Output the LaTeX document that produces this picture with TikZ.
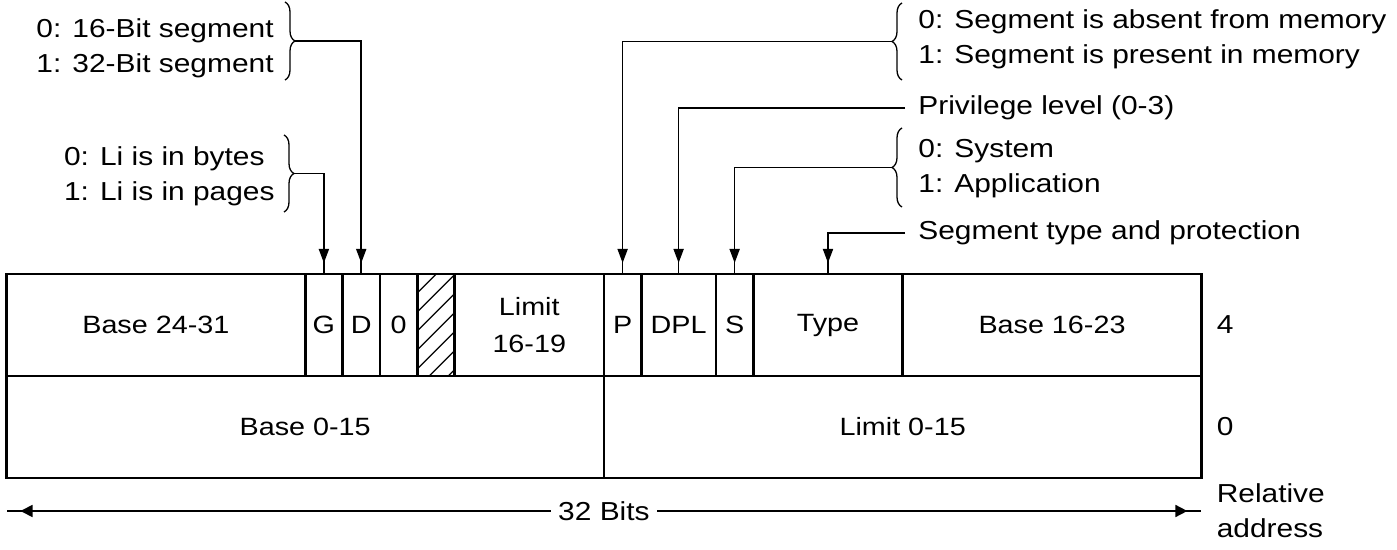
\documentclass[tikz,border=0pt]{standalone}
\usepackage{fontspec}
\setmainfont{Liberation Sans}[FakeStretch=1.15]
\usetikzlibrary{positioning,arrows.meta,decorations.pathreplacing,decorations.markings}

\newcommand{\bitw}{18.67pt}

\tikzset{
  field/.style={draw, line width=1.4pt, outer sep=0pt, inner sep=0pt,
    minimum height=51pt, anchor=north west, align=center,
    font=\fontsize{12.5}{18.5}\selectfont},
  pointer/.style={line width=0.85pt, postaction={decorate},
    decoration={markings, mark=at position -5.5pt with {\arrow{Triangle[length=7pt,width=5pt]}}}},
  span/.style={line width=0.85pt, postaction={decorate},
    decoration={markings, mark=at position -7pt with {\arrow{Triangle[length=6pt,width=6pt]}}}},
  curly/.style={decorate, line width=0.65pt, decoration={brace, amplitude=5pt}},
  lnote/.style={inner xsep=5pt, inner ysep=0pt, anchor=east, align=left},
  rnote/.style={inner xsep=6.5pt, inner ysep=0pt, anchor=west, align=left},
}

\begin{document}
\begin{tikzpicture}[x=0.5pt, y=-0.5pt, font=\fontsize{13}{17.5}\selectfont]
\useasboundingbox (0,0) rectangle (1397,550);

% word at offset 4
\node[field, minimum width=8*\bitw] (basehi) at (6.5,274) {Base 24-31};
\node[field, minimum width=\bitw, right=0pt of basehi] (g) {G};
\node[field, minimum width=\bitw, right=0pt of g] (d) {D};
\node[field, minimum width=\bitw, right=0pt of d] (z) {0};
\node[field, minimum width=\bitw, right=0pt of z] (avl) {};
\node[field, minimum width=4*\bitw, right=0pt of avl] (limhi) {Limit\\16-19};
\node[field, minimum width=\bitw, right=0pt of limhi] (p) {P};
\node[field, minimum width=2*\bitw, right=0pt of p] (dpl) {DPL};
\node[field, minimum width=\bitw, right=0pt of dpl] (s) {S};
\node[field, minimum width=4*\bitw, right=0pt of s] (type) {Type};
\node[field, minimum width=8*\bitw, right=0pt of type] (basemid) {Base 16-23};

% word at offset 0
\node[field, minimum width=16*\bitw] (baselo) at (basehi.south west) {Base 0-15};
\node[field, minimum width=16*\bitw, right=0pt of baselo] (limlo) {Limit 0-15};

% hatched bit
\begin{scope}
  \clip (avl.south west) rectangle (avl.north east);
  \foreach \k in {0,...,7}
    \draw[line width=0.7pt] ([yshift=-\k*9.5pt]avl.north west) -- ++(60,-60);
\end{scope}

\node[inner sep=0pt, right=7.5pt of basemid] (off4) {4};
\node[inner sep=0pt, right=7.5pt of limlo] (off0) {0};

% notes on the left
\node[lnote] (dnote) at (284,48) {0: 16-Bit segment\\1: 32-Bit segment};
\draw[curly] (285,2) -- (285,80);
\coordinate (dtip) at (295,41);
\draw[pointer] (dtip) -| (d.north);

\node[lnote] (gnote) at (285,176) {0: Li is in bytes\\1: Li is in pages};
\draw[curly] (284,135) -- (284,212);
\coordinate (gtip) at (294,173.5);
\draw[pointer] (gtip) -| (g.north);

% notes on the right
\node[rnote] (pnote) at (905,39) {0: Segment is absent from memory\\1: Segment is present in memory};
\draw[curly] (902,80) -- (902,3);
\coordinate (ptip) at (892,41.5);
\draw[pointer] (ptip) -| (p.north);

\node[rnote] (privnote) at (905,108) {Privilege level (0-3)};
\draw[pointer] (privnote.west) -| (dpl.north);

\node[rnote] (snote) at (905,169) {0: System\\1: Application};
\draw[curly] (902,207) -- (902,128);
\coordinate (stip) at (892,167.5);
\draw[pointer] (stip) -| (s.north);

\node[rnote] (typenote) at (905,233) {Segment type and protection};
\draw[pointer] (typenote.west) -| (type.north);

% width
\coordinate[below=16.5pt of baselo.south west] (lend);
\coordinate[below=16.5pt of limlo.south east] (rend);
\node[fill=white, inner xsep=3.5pt, inner ysep=0pt] (bits) at ([yshift=-16.5pt]baselo.south east) {32 Bits};
\draw[span] (bits.west) -- (lend);
\draw[span] (bits.east) -- (rend);
\node[inner sep=0pt, anchor=west, align=left] (reladdr) at ([xshift=7.5pt]rend) {Relative\\address};
\end{tikzpicture}
\end{document}
